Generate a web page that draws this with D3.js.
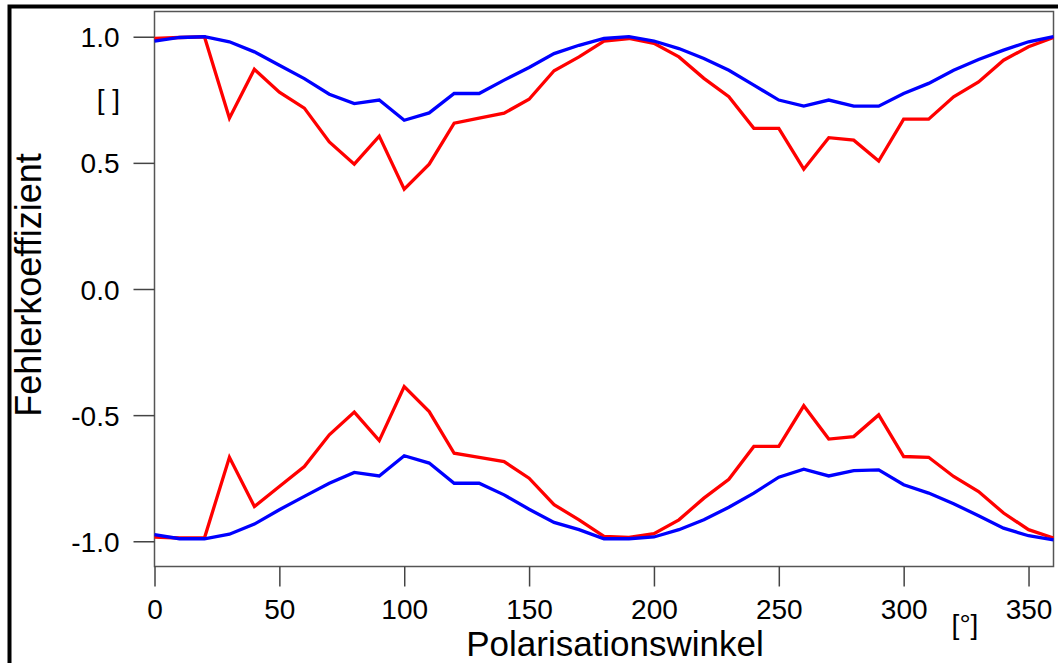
<!DOCTYPE html>
<html>
<head>
<meta charset="utf-8">
<script src="https://cdn.jsdelivr.net/npm/d3@7"></script>
<style>
	body { margin: 0; background: #fff; }
	svg { display: block; font-family: "Liberation Sans", Arial, sans-serif; }
</style>
</head>
<body>
<svg id="viz"></svg>
<script>

// the data
var angles = [0, 10, 20, 30, 40, 50, 60, 70, 80, 90, 100, 110, 120, 130, 140, 150, 160, 170, 180,
	190, 200, 210, 220, 230, 240, 250, 260, 270, 280, 290, 300, 310, 320, 330, 340, 350, 360];

var redUpper = [0.993, 0.997, 1.0, 0.677, 0.871, 0.78, 0.717, 0.583, 0.495, 0.606,
	0.396, 0.495, 0.657, 0.677, 0.697, 0.752, 0.865, 0.92, 0.983, 0.993,
	0.974, 0.92, 0.835, 0.762, 0.637, 0.637, 0.475, 0.6, 0.59, 0.507,
	0.673, 0.673, 0.762, 0.821, 0.907, 0.96, 0.997];

var blueUpper = [0.983, 0.997, 1.0, 0.98, 0.94, 0.887, 0.834, 0.772, 0.735, 0.749,
	0.669, 0.698, 0.775, 0.775, 0.828, 0.878, 0.933, 0.966, 0.993, 1.0,
	0.983, 0.953, 0.914, 0.867, 0.808, 0.749, 0.725, 0.749, 0.725, 0.725,
	0.775, 0.815, 0.867, 0.91, 0.947, 0.98, 1.0];

var redLower = [-0.983, -0.987, -0.987, -0.667, -0.862, -0.783, -0.704, -0.578, -0.488, -0.601,
	-0.387, -0.486, -0.651, -0.667, -0.684, -0.75, -0.855, -0.915, -0.981, -0.985,
	-0.97, -0.915, -0.829, -0.754, -0.624, -0.624, -0.463, -0.595, -0.585, -0.499,
	-0.664, -0.667, -0.743, -0.803, -0.888, -0.954, -0.987];

var blueLower = [-0.974, -0.99, -0.99, -0.972, -0.932, -0.875, -0.822, -0.77, -0.727, -0.741,
	-0.661, -0.69, -0.77, -0.77, -0.816, -0.873, -0.925, -0.954, -0.99, -0.99,
	-0.983, -0.954, -0.915, -0.865, -0.809, -0.746, -0.714, -0.741, -0.72, -0.717,
	-0.776, -0.809, -0.851, -0.899, -0.948, -0.978, -0.994];

var xTicks = [0, 50, 100, 150, 200, 250, 300, 350];
var yTicks = [-1.0, -0.5, 0.0, 0.5, 1.0];

// set up the svg
var w = 1058;
var h = 663;
var svg = d3.select("#viz").attr("width", w).attr("height", h);

var plotLeft = 154.5, plotRight = 1053.5, plotTop = 11.5, plotBottom = 566.5;

var x = d3.scaleLinear().domain([0, 360]).range([plotLeft, plotRight]);
var y = d3.scaleLinear().domain([-1.1, 1.1]).range([plotBottom, plotTop]);

// outer black frame
svg.append("rect")
	.attr("x", 9.5).attr("y", 6.5)
	.attr("width", w + 20).attr("height", h + 20)
	.attr("fill", "none").attr("stroke", "#000").attr("stroke-width", 4);

// plot box
svg.append("rect")
	.attr("x", plotLeft).attr("y", plotTop)
	.attr("width", plotRight - plotLeft).attr("height", plotBottom - plotTop)
	.attr("fill", "none").attr("stroke", "#555").attr("stroke-width", 1.5);

// axes (plain hyphen for negatives, like the original)
var fmt1 = d3.format(".1f");
var xAxis = d3.axisBottom(x).tickValues(xTicks).tickSize(20).tickPadding(12)
	.tickFormat(d3.format("d"));
var yAxis = d3.axisLeft(y).tickValues(yTicks).tickSize(21).tickPadding(14)
	.tickFormat(function(d) { return fmt1(d).replace("\u2212", "-"); });

var gx = svg.append("g").attr("transform", "translate(0," + plotBottom + ")").call(xAxis);
var gy = svg.append("g").attr("transform", "translate(" + plotLeft + ",0)").call(yAxis);

[gx, gy].forEach(function(g) {
	g.select(".domain").remove();
	g.selectAll(".tick line").attr("stroke", "#444").attr("stroke-width", 1.5);
	g.selectAll(".tick text")
		.attr("fill", "#000")
		.style("font-size", "28px")
		.style("font-family", "'Liberation Sans', Arial, sans-serif");
});
gx.selectAll(".tick text").attr("dy", "0.71em").attr("y", 33);
gy.selectAll(".tick text").attr("dy", "0.36em");

// the lines
var line = d3.line()
	.x(function(d) { return x(d[0]); })
	.y(function(d) { return y(d[1]); });

function drawLine(values, color) {
	svg.append("path")
		.datum(d3.zip(angles, values))
		.attr("d", line)
		.attr("fill", "none")
		.attr("stroke", color)
		.attr("stroke-width", 3.3)
		.attr("stroke-linejoin", "miter");
}

drawLine(redUpper, "#ff0000");
drawLine(redLower, "#ff0000");
drawLine(blueUpper, "#0000ff");
drawLine(blueLower, "#0000ff");

// labels
svg.append("text")
	.attr("x", 120).attr("y", 109)
	.attr("text-anchor", "end")
	.style("font-size", "28px")
	.text("[ ]");

svg.append("text")
	.attr("x", 965).attr("y", 634)
	.attr("text-anchor", "middle")
	.style("font-size", "28px")
	.text("[°]");

svg.append("text")
	.attr("transform", "translate(41,285) rotate(-90)")
	.attr("text-anchor", "middle")
	.style("font-size", "36px")
	.text("Fehlerkoeffizient");

svg.append("text")
	.attr("x", 615).attr("y", 656)
	.attr("text-anchor", "middle")
	.style("font-size", "35px")
	.text("Polarisationswinkel");

</script>
</body>
</html>
